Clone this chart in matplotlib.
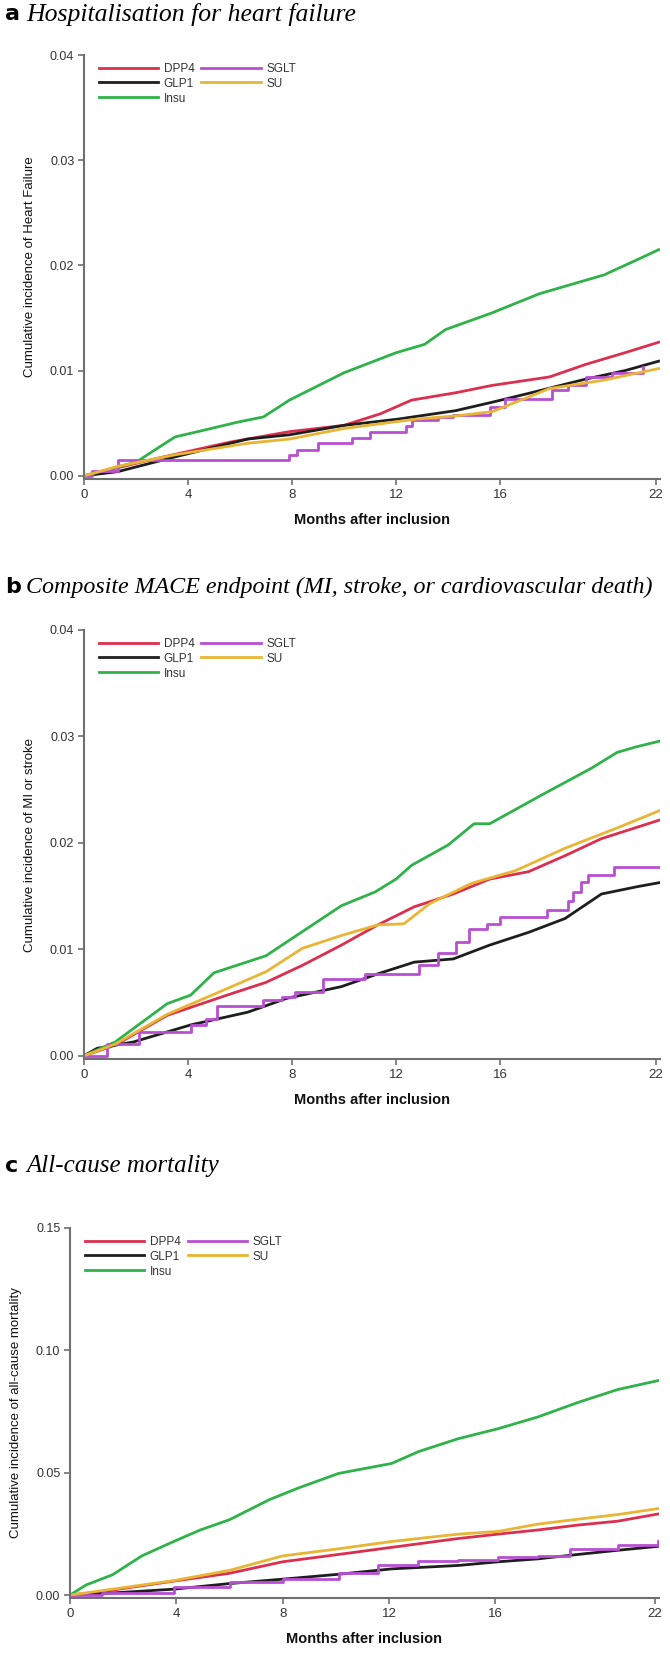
import matplotlib
matplotlib.use("Agg")
import matplotlib.pyplot as plt
from matplotlib import font_manager
import numpy as np

# ---------------- data ----------------
groups = ["DPP4", "GLP1", "Insu", "SGLT", "SU"]
colors = {"DPP4": "#dc2f4f", "GLP1": "#1e1e1e", "Insu": "#2fb24a",
          "SGLT": "#b84fd2", "SU": "#e8b534"}

# Panel a: hospitalisation for heart failure (months, cumulative incidence)
a_dpp4_t = [0, 2.7, 5.6, 7.9, 10.0, 11.4, 12.6, 14.3, 15.7, 17.9, 19.3, 20.8, 22.1]
a_dpp4_v = [0, 0.0016, 0.0032, 0.0042, 0.0048, 0.0059, 0.0072, 0.0079, 0.0086, 0.0094, 0.0106, 0.0117, 0.0127]
a_glp1_t = [0, 1.3, 3.5, 6.3, 7.9, 10.0, 12.1, 14.3, 15.7, 17.2, 19.3, 20.8, 22.1]
a_glp1_v = [0, 0.0004, 0.0018, 0.0035, 0.0039, 0.0048, 0.0054, 0.0062, 0.0070, 0.0079, 0.0092, 0.0100, 0.0109]
a_insu_t = [0, 2.0, 3.5, 4.2, 5.9, 6.9, 7.9, 10.0, 12.0, 13.1, 13.9, 15.7, 17.5, 20.0, 21.5, 22.1]
a_insu_v = [0, 0.0013, 0.0037, 0.0041, 0.0051, 0.0056, 0.0072, 0.0098, 0.0117, 0.0125, 0.0139, 0.0155, 0.0173, 0.0191, 0.0208, 0.0215]
a_sglt_t = [0, 0.3, 1.3, 7.9, 8.2, 9.0, 10.3, 11.0, 12.4, 12.6, 13.6, 14.2, 15.6, 16.2, 18.0, 18.6, 19.3, 20.3, 21.5]
a_sglt_v = [0, 0.0005, 0.0015, 0.0020, 0.0025, 0.0031, 0.0036, 0.0042, 0.0047, 0.0053, 0.0056, 0.0058, 0.0065, 0.0073, 0.0082, 0.0086, 0.0094, 0.0098, 0.0103]
a_su_t = [0, 1.3, 3.5, 6.3, 7.9, 10.0, 12.8, 14.3, 15.7, 17.9, 20.0, 22.1]
a_su_v = [0, 0.0009, 0.0020, 0.0031, 0.0035, 0.0045, 0.0054, 0.0057, 0.0061, 0.0083, 0.0091, 0.0102]

# Panel b: composite MACE endpoint
b_dpp4_t = [0, 1.2, 3.2, 5.5, 7.0, 8.4, 9.9, 11.3, 12.7, 14.2, 15.6, 17.1, 18.5, 19.9, 22.2]
b_dpp4_v = [0, 0.0010, 0.0038, 0.0057, 0.0069, 0.0085, 0.0104, 0.0123, 0.0140, 0.0152, 0.0166, 0.0173, 0.0188, 0.0204, 0.0222]
b_glp1_t = [0, 0.5, 1.9, 4.1, 6.3, 7.8, 9.9, 11.3, 12.7, 14.2, 15.6, 17.1, 18.5, 19.9, 21.3, 22.2]
b_glp1_v = [0, 0.0007, 0.0013, 0.0029, 0.0041, 0.0054, 0.0065, 0.0077, 0.0088, 0.0091, 0.0104, 0.0116, 0.0129, 0.0152, 0.0159, 0.0163]
b_insu_t = [0, 1.2, 3.2, 4.1, 5.0, 7.0, 7.8, 9.9, 11.2, 12.0, 12.6, 14.0, 15.0, 15.6, 17.6, 19.5, 20.5, 21.2, 22.2]
b_insu_v = [0, 0.0013, 0.0049, 0.0057, 0.0078, 0.0094, 0.0107, 0.0141, 0.0154, 0.0166, 0.0179, 0.0198, 0.0218, 0.0218, 0.0245, 0.0270, 0.0285, 0.0290, 0.0296]
b_sglt_t = [0, 0.9, 2.1, 4.1, 4.7, 5.1, 6.9, 7.6, 8.1, 9.2, 10.8, 12.9, 13.6, 14.3, 14.8, 15.5, 16.0, 17.8, 18.6, 18.8, 19.1, 19.4, 20.4, 22.2]
b_sglt_v = [0, 0.0011, 0.0022, 0.0029, 0.0035, 0.0047, 0.0052, 0.0055, 0.0060, 0.0072, 0.0077, 0.0085, 0.0097, 0.0107, 0.0119, 0.0124, 0.0130, 0.0137, 0.0145, 0.0154, 0.0163, 0.0170, 0.0177, 0.0177]
b_su_t = [0, 1.2, 3.2, 5.3, 7.0, 8.4, 9.9, 11.3, 12.3, 13.3, 14.9, 16.6, 18.5, 20.6, 22.2]
b_su_v = [0, 0.0011, 0.0039, 0.0061, 0.0079, 0.0101, 0.0113, 0.0123, 0.0124, 0.0143, 0.0162, 0.0174, 0.0195, 0.0215, 0.0231]

# Panel c: all-cause mortality
c_dpp4_t = [0, 1.2, 3.9, 6.0, 8.0, 10.1, 12.1, 14.6, 16.1, 17.6, 19.1, 20.6, 22.1]
c_dpp4_v = [0, 0.0014, 0.0057, 0.0089, 0.0136, 0.0166, 0.0195, 0.0231, 0.0249, 0.0266, 0.0286, 0.0302, 0.0331]
c_glp1_t = [0, 1.2, 3.9, 6.0, 8.0, 10.1, 12.1, 14.6, 16.1, 17.6, 19.1, 20.6, 22.1]
c_glp1_v = [0, 0.0006, 0.0024, 0.0047, 0.0065, 0.0085, 0.0107, 0.0121, 0.0136, 0.0148, 0.0166, 0.0183, 0.0199]
c_insu_t = [0, 0.6, 1.6, 2.7, 3.9, 4.9, 6.0, 7.5, 8.6, 10.1, 12.1, 13.1, 14.6, 16.1, 17.6, 19.1, 20.6, 22.1]
c_insu_v = [0, 0.0041, 0.0083, 0.0160, 0.0219, 0.0266, 0.0308, 0.0390, 0.0438, 0.0497, 0.0538, 0.0586, 0.0639, 0.0680, 0.0728, 0.0787, 0.0840, 0.0876]
c_sglt_t = [0, 1.2, 3.9, 6.0, 8.0, 10.1, 11.6, 13.1, 14.6, 16.1, 17.6, 18.8, 20.6, 22.1]
c_sglt_v = [0, 0.0010, 0.0033, 0.0053, 0.0065, 0.0089, 0.0124, 0.0140, 0.0142, 0.0154, 0.0160, 0.0189, 0.0204, 0.0221]
c_su_t = [0, 1.2, 3.9, 6.0, 8.0, 10.1, 12.1, 14.6, 16.1, 17.6, 19.1, 20.6, 22.1]
c_su_v = [0, 0.0018, 0.0059, 0.0101, 0.0160, 0.0189, 0.0219, 0.0249, 0.0260, 0.0290, 0.0310, 0.0329, 0.0353]

x_ticks = [0, 4, 8, 12, 16, 22]
a_yticks = [0.00, 0.01, 0.02, 0.03, 0.04]
b_yticks = [0.00, 0.01, 0.02, 0.03, 0.04]
c_yticks = [0.00, 0.05, 0.10, 0.15]

panels = [
    dict(letter="a", title="Hospitalisation for heart failure",
         ylabel="Cumulative incidence of Heart Failure",
         data={"DPP4": (a_dpp4_t, a_dpp4_v), "GLP1": (a_glp1_t, a_glp1_v),
               "Insu": (a_insu_t, a_insu_v), "SGLT": (a_sglt_t, a_sglt_v),
               "SU": (a_su_t, a_su_v)},
         yticks=a_yticks, ylim=(-0.0003, 0.04),
         rect=(84, 55, 660, 479), title_y=14, title_size=18.5),
    dict(letter="b", title="Composite MACE endpoint (MI, stroke, or cardiovascular death)",
         ylabel="Cumulative incidence of MI or stroke",
         data={"DPP4": (b_dpp4_t, b_dpp4_v), "GLP1": (b_glp1_t, b_glp1_v),
               "Insu": (b_insu_t, b_insu_v), "SGLT": (b_sglt_t, b_sglt_v),
               "SU": (b_su_t, b_su_v)},
         yticks=b_yticks, ylim=(-0.0003, 0.04),
         rect=(84, 630, 660, 1059), title_y=587, title_size=17.3),
    dict(letter="c", title="All-cause mortality",
         ylabel="Cumulative incidence of all-cause mortality",
         data={"DPP4": (c_dpp4_t, c_dpp4_v), "GLP1": (c_glp1_t, c_glp1_v),
               "Insu": (c_insu_t, c_insu_v), "SGLT": (c_sglt_t, c_sglt_v),
               "SU": (c_su_t, c_su_v)},
         yticks=c_yticks, ylim=(-0.0012, 0.15),
         rect=(70, 1228, 659, 1598), title_y=1166, title_size=18),
]

installed = {f.name for f in font_manager.fontManager.ttflist}
if "Liberation Sans Narrow" in installed:
    tick_font = ["Liberation Sans Narrow", "DejaVu Sans"]
else:
    tick_font = ["Liberation Sans", "DejaVu Sans"]

W, H = 670, 1653
fig = plt.figure(figsize=(W / 100, H / 100), dpi=100)
spine_col = "#707070"

for p in panels:
    x0, y0, x1, y1 = p["rect"]
    ax = fig.add_axes([x0 / W, 1 - y1 / H, (x1 - x0) / W, (y1 - y0) / H])
    for g in groups:
        t, v = p["data"][g]
        ds = "steps-post" if g == "SGLT" else "default"
        ax.plot(t, v, color=colors[g], lw=2.0, drawstyle=ds, label=g)
    ax.set_xlim(0, 22.15)
    ax.set_ylim(*p["ylim"])
    ax.set_xticks(x_ticks)
    ax.set_yticks(p["yticks"])
    ax.set_yticklabels([f"{v:.2f}" for v in p["yticks"]], family=tick_font, fontsize=9, color="#333333")
    ax.set_xticklabels([str(v) for v in x_ticks], family=tick_font, fontsize=9.5, color="#333333")
    for s in ("top", "right"):
        ax.spines[s].set_visible(False)
    for s in ("left", "bottom"):
        ax.spines[s].set_color(spine_col)
        ax.spines[s].set_linewidth(1.5)
    ax.tick_params(direction="out", length=4, width=1.2, color=spine_col, pad=3)
    ax.set_xlabel("Months after inclusion", family=tick_font, fontsize=10.5,
                  fontweight="bold", labelpad=9, color="#111111")
    ax.set_ylabel(p["ylabel"], family=tick_font, fontsize=9.5, labelpad=10, color="#111111")
    leg = ax.legend(ncol=2, loc="upper left", bbox_to_anchor=(0.012, 1.0), frameon=False,
                    prop={"family": tick_font, "size": 8.5}, handlelength=5.0,
                    handletextpad=0.5, columnspacing=0.6, labelspacing=0.25,
                    borderaxespad=0.25)
    for txt in leg.get_texts():
        txt.set_color("#333333")
    fig.text(5 / W, 1 - p["title_y"] / H, p["letter"], fontsize=16, fontweight="bold",
             family="DejaVu Sans", va="center", ha="left")
    fig.text(26 / W, 1 - p["title_y"] / H, p["title"], fontsize=p["title_size"], style="italic",
             family="Liberation Serif", va="center", ha="left")

fig.savefig("out.png", dpi=100)
